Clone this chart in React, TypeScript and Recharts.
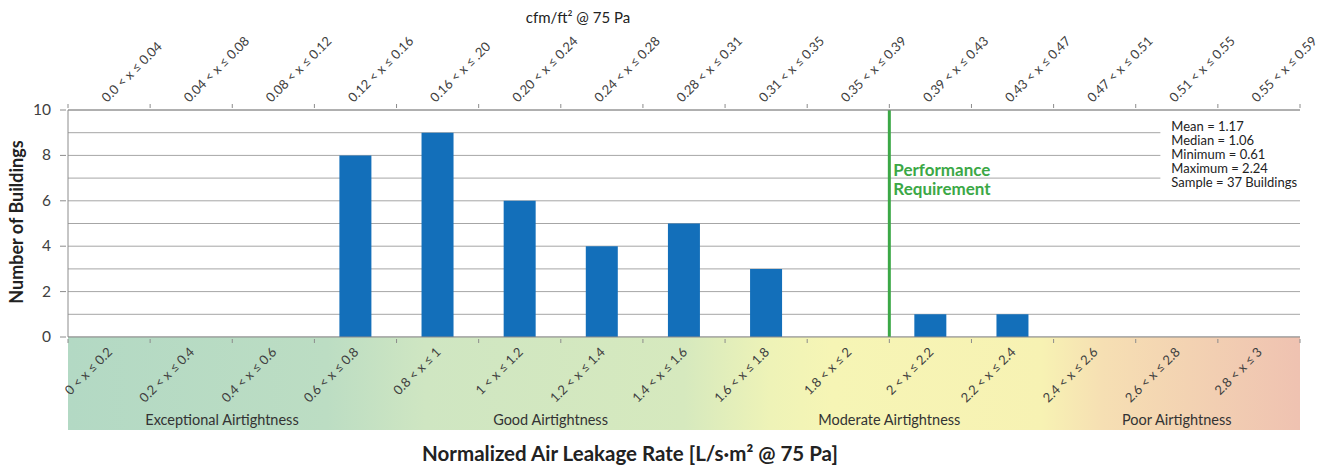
import {
  BarChart,
  Bar,
  XAxis,
  YAxis,
  CartesianGrid,
  ReferenceLine,
  ReferenceArea,
} from "recharts";

const lsmBins = [
  "0 < x ≤ 0.2",
  "0.2 < x ≤ 0.4",
  "0.4 < x ≤ 0.6",
  "0.6 < x ≤ 0.8",
  "0.8 < x ≤ 1",
  "1 < x ≤ 1.2",
  "1.2 < x ≤ 1.4",
  "1.4 < x ≤ 1.6",
  "1.6 < x ≤ 1.8",
  "1.8 < x ≤ 2",
  "2 < x ≤ 2.2",
  "2.2 < x ≤ 2.4",
  "2.4 < x ≤ 2.6",
  "2.6 < x ≤ 2.8",
  "2.8 < x ≤ 3",
];

// lower edge of each L/s·m² bin
const binLower = [0, 0.2, 0.4, 0.6, 0.8, 1, 1.2, 1.4, 1.6, 1.8, 2, 2.2, 2.4, 2.6, 2.8];

const cfmBins = [
  "0.0 < x ≤ 0.04",
  "0.04 < x ≤ 0.08",
  "0.08 < x ≤ 0.12",
  "0.12 < x ≤ 0.16",
  "0.16 < x ≤ .20",
  "0.20 < x ≤ 0.24",
  "0.24 < x ≤ 0.28",
  "0.28 < x ≤ 0.31",
  "0.31 < x ≤ 0.35",
  "0.35 < x ≤ 0.39",
  "0.39 < x ≤ 0.43",
  "0.43 < x ≤ 0.47",
  "0.47 < x ≤ 0.51",
  "0.51 < x ≤ 0.55",
  "0.55 < x ≤ 0.59",
];

const buildingCounts = [0, 0, 0, 8, 9, 6, 4, 5, 3, 0, 1, 1, 0, 0, 0];

const yTicks = [0, 1, 2, 3, 4, 5, 6, 7, 8, 9, 10];

const regionNames = [
  "Exceptional Airtightness",
  "Good Airtightness",
  "Moderate Airtightness",
  "Poor Airtightness",
];
const regionFrom = [0, 0.75, 1.6, 2.4];
const regionTo = [0.75, 1.6, 2.4, 3];

const performanceRequirement = 2.0;

const statLines = [
  "Mean = 1.17",
  "Median = 1.06",
  "Minimum = 0.61",
  "Maximum = 2.24",
  "Sample = 37 Buildings",
];

const data = lsmBins.map((bin, i) => ({
  bin,
  lower: binLower[i],
  cfm: cfmBins[i],
  count: buildingCounts[i],
}));

const W = 1326;
const H = 470;
const Y_AXIS_W = 68;
const RIGHT = 26;
const STEP = (W - Y_AXIS_W - RIGHT) / lsmBins.length;
const AXIS = "#8c8c8c";
const LABEL = "#404040";
const GREEN = "#3ba846";

function BottomTick({ x, y, payload, index }: any) {
  const tx = x + 4;
  const ty = y + 14;
  return (
    <g>
      <line x1={x - STEP / 2} x2={x - STEP / 2} y1={y} y2={y + 4} stroke={AXIS} />
      {index === lsmBins.length - 1 && (
        <line x1={x + STEP / 2} x2={x + STEP / 2} y1={y} y2={y + 4} stroke={AXIS} />
      )}
      <text
        x={tx}
        y={ty}
        transform={`rotate(-45 ${tx} ${ty})`}
        textAnchor="end"
        fontSize={13}
        fill={LABEL}
      >
        {payload.value}
      </text>
    </g>
  );
}

function TopTick({ x, y, payload, index }: any) {
  const tx = x - 2;
  const ty = y - 5;
  return (
    <g>
      <line x1={x - STEP / 2} x2={x - STEP / 2} y1={y - 4} y2={y} stroke={AXIS} />
      {index === cfmBins.length - 1 && (
        <line x1={x + STEP / 2} x2={x + STEP / 2} y1={y - 4} y2={y} stroke={AXIS} />
      )}
      <text
        x={tx}
        y={ty}
        transform={`rotate(-45 ${tx} ${ty})`}
        textAnchor="start"
        fontSize={13}
        fill={LABEL}
      >
        {payload.value}
      </text>
    </g>
  );
}

function LeftTick({ x, y, payload }: any) {
  if (payload.value % 2 !== 0) return <g />;
  return (
    <g>
      <line x1={x - 6} x2={x} y1={y} y2={y} stroke={AXIS} />
      <text x={x - 15} y={y} dy={5} textAnchor="end" fontSize={15.5} fill={LABEL}>
        {payload.value}
      </text>
    </g>
  );
}

function PerfLabel({ viewBox }: any) {
  const x = viewBox.x + 4;
  const y = viewBox.y;
  return (
    <text fontSize={17} fontWeight="bold" fill={GREEN}>
      <tspan x={x} y={y + 66}>Performance</tspan>
      <tspan x={x} y={y + 85}>Requirement</tspan>
    </text>
  );
}

function StatsLabel({ viewBox }: any) {
  const x = viewBox.x + 11;
  const y = viewBox.y + 14;
  return (
    <text fontSize={13} fill="#222">
      {statLines.map((s, i) => (
        <tspan key={s} x={x} y={y + i * 14}>
          {s}
        </tspan>
      ))}
    </text>
  );
}

export default function App() {
  return (
    <div
      style={{
        position: "absolute",
        left: 0,
        top: 0,
        width: W,
        height: H,
        background: "#fff",
        fontFamily: "Lato, 'Open Sans', sans-serif",
      }}
    >
      <div
        style={{
          position: "absolute",
          left: 478,
          top: 8,
          width: 200,
          textAlign: "center",
          fontSize: 15,
          color: "#222",
        }}
      >
        cfm/ft² @ 75 Pa
      </div>
      <div
        style={{
          position: "absolute",
          left: 280,
          top: 441,
          width: 700,
          textAlign: "center",
          fontSize: 20.5,
          fontWeight: "bold",
          color: "#222",
        }}
      >
        Normalized Air Leakage Rate [L/s·m² @ 75 Pa]
      </div>
      <div
        style={{
          position: "absolute",
          left: 16,
          top: 222,
          transform: "translate(-50%, -50%) rotate(-90deg)",
          whiteSpace: "nowrap",
          fontSize: 18,
          fontWeight: "bold",
          color: "#222",
        }}
      >
        Number of Buildings
      </div>
      <BarChart
        width={W}
        height={H}
        data={data}
        margin={{ top: 0, right: RIGHT, bottom: 40, left: 0 }}
        style={{ position: "absolute", left: 0, top: 0 }}
      >
        <defs>
          <linearGradient id="band" x1="0" y1="0" x2="1" y2="0">
            <stop offset="0%" stopColor="#b3d9c4" />
            <stop offset="21%" stopColor="#bcddc3" />
            <stop offset="29%" stopColor="#cfe6c2" />
            <stop offset="50%" stopColor="#d6e9be" />
            <stop offset="57%" stopColor="#eef3b7" />
            <stop offset="62%" stopColor="#f6f5b5" />
            <stop offset="79%" stopColor="#f7f2b3" />
            <stop offset="84%" stopColor="#f6dfb3" />
            <stop offset="100%" stopColor="#efc2b1" />
          </linearGradient>
        </defs>
        <CartesianGrid vertical={false} stroke="#a6a6a6" />
        <XAxis
          xAxisId="cat"
          dataKey="bin"
          interval={0}
          height={93}
          tickSize={0}
          tickLine={false}
          axisLine={{ stroke: AXIS }}
          tick={<BottomTick />}
        />
        <XAxis
          xAxisId="cfm"
          dataKey="cfm"
          orientation="top"
          interval={0}
          height={110}
          tickSize={0}
          tickLine={false}
          axisLine={{ stroke: AXIS }}
          tick={<TopTick />}
        />
        <XAxis
          xAxisId="lsm"
          dataKey="lower"
          type="number"
          domain={[0, 3]}
          allowDataOverflow
          hide
        />
        <YAxis
          width={Y_AXIS_W}
          domain={[0, 10]}
          ticks={yTicks}
          interval={0}
          tickSize={0}
          tickLine={false}
          axisLine={{ stroke: AXIS }}
          tick={<LeftTick />}
        />
        <ReferenceArea
          xAxisId="lsm"
          x1={0}
          x2={3}
          y1={-4.1}
          y2={0}
          ifOverflow="visible"
          fill="url(#band)"
          fillOpacity={1}
          stroke="none"
        />
        {regionNames.map((name, i) => (
          <ReferenceArea
            key={name}
            xAxisId="lsm"
            x1={regionFrom[i]}
            x2={regionTo[i]}
            y1={-3.85}
            y2={-3.45}
            ifOverflow="visible"
            fillOpacity={0}
            stroke="none"
            label={{ value: name, position: "center", fontSize: 14.5, fill: "#333" }}
          />
        ))}
        <ReferenceArea
          xAxisId="lsm"
          x1={2.66}
          x2={3}
          y1={6.5}
          y2={9.7}
          fill="#fff"
          fillOpacity={1}
          stroke="none"
          label={(p: any) => <StatsLabel {...p} />}
        />
        <ReferenceLine
          xAxisId="lsm"
          x={performanceRequirement}
          stroke={GREEN}
          strokeWidth={3}
          label={(p: any) => <PerfLabel {...p} />}
        />
        <Bar
          xAxisId="cat"
          dataKey="count"
          fill="#136fba"
          barSize={32}
          isAnimationActive={false}
        />
      </BarChart>
    </div>
  );
}
